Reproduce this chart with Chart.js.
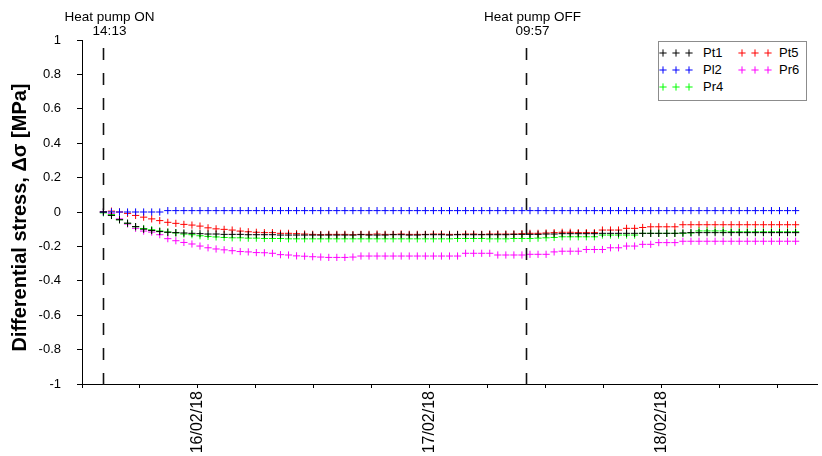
<!DOCTYPE html>
<html><head><meta charset="utf-8">
<script src="https://cdn.jsdelivr.net/npm/chart.js@4"></script>
<style>
html,body{margin:0;padding:0;background:#fff;}
#wrap{position:relative;width:822px;height:456px;}
canvas{display:block;}
#legend{position:absolute;left:658px;top:41px;width:149px;height:60px;border:1px solid #8c8c8c;box-sizing:border-box;background:#fff;font:13px "Liberation Sans",Arial,sans-serif;color:#000;}
.lg-mark{position:absolute;}
.lg-text{position:absolute;line-height:16px;height:16px;white-space:nowrap;}
</style></head>
<body>
<div id="wrap"><canvas id="c" width="822" height="456"></canvas><div id="legend"></div></div>
<script>
// ---- data ----
const seriesNames = ['Pt1', 'Pl2', 'Pr4', 'Pt5', 'Pr6'];
const seriesColors = ['#000000', '#0000ff', '#00ff00', '#ff0000', '#ff00ff'];

// sampling: first reading 15/02/18 14:13, one reading every 50 minutes (hours since 15/02/18 00:00)
const firstSampleHour = 14 + 13 / 60;
const sampleStepHours = 50 / 60;
const sampleCount = 87;

const pt1 = [0,-0.02,-0.045,-0.065,-0.085,-0.1,-0.108,-0.114,-0.118,-0.12,
  -0.122,-0.124,-0.126,-0.128,-0.128,-0.13,-0.13,-0.13,-0.132,-0.132,
  -0.132,-0.132,-0.134,-0.134,-0.134,-0.134,-0.134,-0.134,-0.134,-0.134,
  -0.134,-0.134,-0.132,-0.134,-0.134,-0.134,-0.132,-0.132,-0.134,-0.134,
  -0.132,-0.132,-0.132,-0.134,-0.132,-0.132,-0.132,-0.132,-0.132,-0.132,
  -0.132,-0.13,-0.13,-0.13,-0.13,-0.128,-0.128,-0.126,-0.126,-0.126,
  -0.126,-0.126,-0.124,-0.124,-0.124,-0.124,-0.124,-0.124,-0.124,-0.124,
  -0.124,-0.124,-0.122,-0.12,-0.12,-0.12,-0.12,-0.12,-0.12,-0.12,
  -0.12,-0.12,-0.12,-0.12,-0.12,-0.12,-0.12];

const pl2 = [0,0,0,0,0,0,0,0,0.008,0.008,
  0.008,0.008,0.008,0.008,0.008,0.008,0.008,0.008,0.008,0.008,
  0.008,0.008,0.008,0.008,0.008,0.008,0.008,0.008,0.008,0.008,
  0.008,0.008,0.008,0.008,0.008,0.008,0.008,0.008,0.008,0.008,
  0.008,0.008,0.008,0.008,0.008,0.008,0.008,0.008,0.008,0.008,
  0.008,0.008,0.008,0.008,0.008,0.008,0.008,0.008,0.008,0.008,
  0.008,0.008,0.008,0.008,0.008,0.008,0.008,0.008,0.008,0.008,
  0.008,0.008,0.008,0.008,0.008,0.008,0.008,0.008,0.008,0.008,
  0.008,0.008,0.008,0.008,0.008,0.008,0.008];

const pr4 = [-0.005,-0.015,-0.045,-0.066,-0.086,-0.096,-0.103,-0.11,-0.116,-0.122,
  -0.128,-0.132,-0.138,-0.142,-0.145,-0.148,-0.15,-0.15,-0.152,-0.152,
  -0.154,-0.154,-0.154,-0.156,-0.156,-0.156,-0.156,-0.156,-0.156,-0.156,
  -0.156,-0.156,-0.156,-0.156,-0.156,-0.156,-0.156,-0.156,-0.156,-0.156,
  -0.156,-0.156,-0.156,-0.156,-0.154,-0.154,-0.154,-0.154,-0.156,-0.156,
  -0.156,-0.154,-0.154,-0.154,-0.152,-0.15,-0.148,-0.144,-0.144,-0.144,
  -0.144,-0.144,-0.134,-0.134,-0.134,-0.134,-0.134,-0.124,-0.124,-0.124,
  -0.124,-0.124,-0.124,-0.122,-0.11,-0.11,-0.11,-0.11,-0.115,-0.115,
  -0.115,-0.115,-0.115,-0.115,-0.115,-0.115,-0.115];

const pt5 = [0,0.005,0,-0.008,-0.02,-0.03,-0.04,-0.05,-0.06,-0.066,
  -0.072,-0.076,-0.082,-0.092,-0.098,-0.101,-0.105,-0.111,-0.115,-0.118,
  -0.12,-0.12,-0.124,-0.124,-0.126,-0.128,-0.13,-0.132,-0.13,-0.13,
  -0.13,-0.132,-0.13,-0.13,-0.128,-0.13,-0.13,-0.128,-0.13,-0.13,
  -0.13,-0.128,-0.128,-0.13,-0.13,-0.128,-0.128,-0.13,-0.128,-0.128,
  -0.128,-0.128,-0.126,-0.124,-0.124,-0.122,-0.12,-0.118,-0.118,-0.12,
  -0.12,-0.12,-0.105,-0.105,-0.105,-0.095,-0.095,-0.09,-0.086,-0.086,
  -0.086,-0.086,-0.074,-0.074,-0.074,-0.074,-0.074,-0.074,-0.074,-0.074,
  -0.074,-0.074,-0.074,-0.074,-0.074,-0.074,-0.074];

const pr6 = [0,-0.01,-0.04,-0.07,-0.095,-0.111,-0.117,-0.132,-0.155,-0.167,
  -0.177,-0.186,-0.198,-0.208,-0.215,-0.22,-0.225,-0.23,-0.232,-0.236,
  -0.237,-0.24,-0.248,-0.25,-0.255,-0.257,-0.26,-0.262,-0.264,-0.264,
  -0.264,-0.262,-0.256,-0.256,-0.256,-0.256,-0.256,-0.256,-0.256,-0.256,
  -0.256,-0.256,-0.256,-0.256,-0.256,-0.24,-0.24,-0.24,-0.24,-0.25,
  -0.25,-0.25,-0.25,-0.246,-0.246,-0.246,-0.232,-0.228,-0.228,-0.228,
  -0.218,-0.218,-0.218,-0.208,-0.208,-0.198,-0.198,-0.188,-0.188,-0.178,
  -0.178,-0.178,-0.17,-0.17,-0.17,-0.17,-0.17,-0.17,-0.17,-0.17,
  -0.17,-0.17,-0.17,-0.17,-0.17,-0.17,-0.17];

const seriesValues = [pt1, pl2, pr4, pt5, pr6];

// x axis: hours since 15/02/18 00:00
const xMin = 12;
const xMax = 88.1;
const xTickHours = [12, 18, 24, 30, 36, 42, 48, 54, 60, 66, 72, 78, 84];
const xTickLabels = ['', '', '16/02/18', '', '', '', '17/02/18', '', '', '', '18/02/18', '', ''];

const yTickValues = [-1, -0.8, -0.6, -0.4, -0.2, 0, 0.2, 0.4, 0.6, 0.8, 1];
const yTickLabels = ['-1', '-0.8', '-0.6', '-0.4', '-0.2', '0', '0.2', '0.4', '0.6', '0.8', '1'];

const eventHours = [14 + 13 / 60, 48 + 9 + 57 / 60];
const eventTitles = ['Heat pump ON', 'Heat pump OFF'];
const eventTimes = ['14:13', '09:57'];

// ---- build ----
const sampleHours = [];
for (let i = 0; i < sampleCount; i++) sampleHours.push(firstSampleHour + i * sampleStepHours);

const datasets = seriesNames.map((name, s) => ({
  label: name,
  data: seriesValues[s].map((v, i) => ({ x: sampleHours[i], y: v })),
  showLine: false,
  pointStyle: 'cross',
  pointRadius: 3.6,
  pointBorderWidth: 1,
  borderColor: seriesColors[s],
  backgroundColor: seriesColors[s],
}));

const FONT = '"Liberation Sans", Arial, sans-serif';

const eventPlugin = {
  id: 'events',
  afterDatasetsDraw(chart) {
    const { ctx, chartArea, scales } = chart;
    ctx.save();
    eventHours.forEach((h, k) => {
      const px = Math.round(scales.x.getPixelForValue(h)) + 0.5;
      ctx.strokeStyle = '#111';
      ctx.lineWidth = 1.6;
      ctx.setLineDash([12, 13]);
      ctx.beginPath();
      ctx.moveTo(px, chartArea.bottom + 1);
      ctx.lineTo(px, chartArea.top);
      ctx.stroke();
      ctx.setLineDash([]);
      ctx.fillStyle = '#000';
      ctx.font = '13.5px ' + FONT;
      ctx.textAlign = 'center';
      ctx.textBaseline = 'middle';
      ctx.fillText(eventTitles[k], px + 6, 17);
      ctx.fillText(eventTimes[k], px + 6, 31);
    });
    ctx.restore();
  }
};

Chart.defaults.font.family = FONT;
Chart.defaults.color = '#000';

new Chart(document.getElementById('c'), {
  type: 'scatter',
  data: { datasets },
  options: {
    responsive: false,
    animation: false,
    devicePixelRatio: 1,
    layout: { padding: { top: 40, left: 0, right: 0, bottom: 0 } },
    plugins: { legend: { display: false }, tooltip: { enabled: false } },
    scales: {
      x: {
        type: 'linear',
        min: xMin,
        max: xMax,
        afterBuildTicks(scale) { scale.ticks = xTickHours.map(v => ({ value: v })); },
        afterFit(scale) { scale.height = 72; scale.paddingLeft = 0; scale.paddingRight = 0; },
        grid: { drawOnChartArea: false, drawTicks: true, tickLength: 4, color: '#000', lineWidth: 1 },
        border: { display: true, color: '#000', width: 1 },
        ticks: {
          autoSkip: false,
          minRotation: 90,
          maxRotation: 90,
          padding: 3,
          font: { size: 16 },
          color: '#000',
          callback(value) { const i = xTickHours.indexOf(value); return i >= 0 ? xTickLabels[i] : ''; }
        }
      },
      y: {
        type: 'linear',
        min: -1,
        max: 1,
        afterBuildTicks(scale) { scale.ticks = yTickValues.map(v => ({ value: v })); },
        afterFit(scale) { scale.width = 82; scale.paddingTop = 0; scale.paddingBottom = 0; },
        grid: { drawOnChartArea: false, drawTicks: true, tickLength: 5, color: '#000', lineWidth: 1 },
        border: { display: true, color: '#000', width: 1 },
        ticks: {
          padding: 16,
          font: { size: 13 },
          color: '#000',
          callback(value) { const i = yTickValues.findIndex(v => Math.abs(v - value) < 1e-9); return i >= 0 ? yTickLabels[i] : ''; }
        },
        title: {
          display: true,
          text: 'Differential stress, Δσ [MPa]  ',
          font: { size: 20, weight: 'bold' },
          color: '#000',
          padding: { top: 8, bottom: 0 }
        }
      }
    }
  },
  plugins: [eventPlugin]
});

// ---- legend (column-major, 3 rows) ----
const legend = document.getElementById('legend');
const rowsY = [3, 20, 37];
const colMarkX = [0, 79];
const colTextX = [44, 120];
seriesNames.forEach((name, s) => {
  const col = Math.floor(s / 3), row = s % 3;
  const svgNS = 'http://www.w3.org/2000/svg';
  const svg = document.createElementNS(svgNS, 'svg');
  svg.setAttribute('width', '36');
  svg.setAttribute('height', '16');
  svg.setAttribute('class', 'lg-mark');
  svg.style.left = colMarkX[col] + 'px';
  svg.style.top = rowsY[row] + 'px';
  [4, 17, 30].forEach(cx => {
    const p = document.createElementNS(svgNS, 'path');
    p.setAttribute('d', `M${cx - 3.6} 8 H${cx + 3.6} M${cx} 4.4 V11.6`);
    p.setAttribute('stroke', seriesColors[s]);
    p.setAttribute('stroke-width', '1');
    p.setAttribute('fill', 'none');
    svg.appendChild(p);
  });
  legend.appendChild(svg);
  const t = document.createElement('div');
  t.className = 'lg-text';
  t.style.left = colTextX[col] + 'px';
  t.style.top = rowsY[row] + 'px';
  t.textContent = name;
  legend.appendChild(t);
});
</script>
</body></html>
